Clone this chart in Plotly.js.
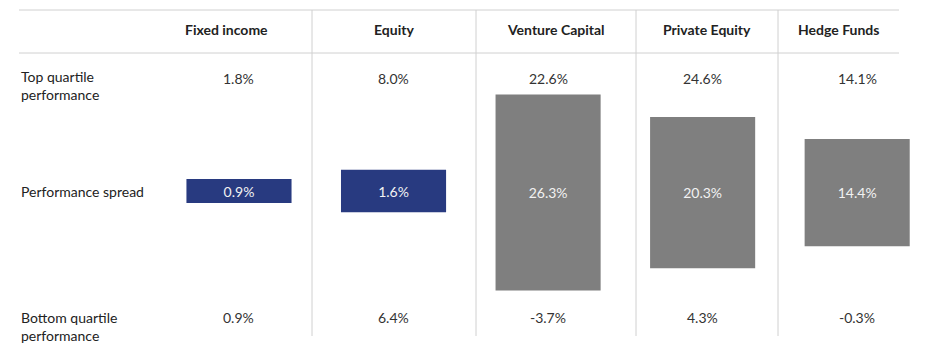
<!DOCTYPE html>
<html><head><meta charset="utf-8">
<script src="https://cdn.plot.ly/plotly-3.0.1.min.js"></script>
<style>html,body{margin:0;padding:0;background:#fff;}#chart{width:941px;height:353px;}</style>
</head><body><div id="chart"></div>
<script>
// ---- data ----
const categories = ["Fixed income", "Equity", "Venture Capital", "Private Equity", "Hedge Funds"];
const topQuartile = ["1.8%", "8.0%", "22.6%", "24.6%", "14.1%"];
const bottomQuartile = ["0.9%", "6.4%", "-3.7%", "4.3%", "-0.3%"];
const spreadTraditional = [0.9, 1.6];          // Fixed income, Equity (blue, own scale)
const spreadAlternative = [26.3, 20.3, 14.4];  // VC, PE, Hedge Funds (grey)
const rowLabels = ["Top quartile<br>performance", "Performance spread", "Bottom quartile<br>performance"];

// ---- layout helpers ----
const W = 941, H = 353;
const px = x => x / W;
const py = y => 1 - y / H;
const FONT = "Lato, 'Liberation Sans', sans-serif";
const txt = "#333333";
const FS = 14;

const tradCats = categories.slice(0, 2);
const altCats = categories.slice(2);

const traces = [
  {
    type: "bar", x: tradCats, y: spreadTraditional,
    base: spreadTraditional.map(v => -v / 2),
    yaxis: "y2", width: 0.68,
    marker: {color: "#283a80"},
    text: spreadTraditional.map(v => v.toFixed(1) + "%"),
    textposition: "inside", insidetextanchor: "middle",
    textfont: {color: "#f2f2f2", size: FS, family: FONT},
    hoverinfo: "skip", showlegend: false
  },
  {
    type: "bar", x: altCats, y: spreadAlternative,
    base: spreadAlternative.map(v => -v / 2),
    yaxis: "y", width: 0.68,
    marker: {color: "#7f7f7f"},
    text: spreadAlternative.map(v => v.toFixed(1) + "%"),
    textposition: "inside", insidetextanchor: "middle",
    textfont: {color: "#f2f2f2", size: FS, family: FONT},
    hoverinfo: "skip", showlegend: false
  }
];

// table structure (pixels)
const colEdges = [140, 312, 476, 636, 778, 898];
const lineColor = "#d0d0d0";
const shapes = [];
[10, 53].forEach(y => shapes.push({type: "line", xref: "paper", yref: "paper",
  x0: px(19), x1: px(899), y0: py(y), y1: py(y), line: {color: lineColor, width: 1}}));
colEdges.slice(1, 5).forEach(x => shapes.push({type: "line", xref: "paper", yref: "paper",
  x0: px(x), x1: px(x), y0: py(10), y1: py(336), line: {color: lineColor, width: 1}}));

const annotations = [];
categories.forEach((c, i) => {
  annotations.push({xref: "paper", yref: "paper", x: px((colEdges[i] + colEdges[i + 1]) / 2), y: py(30),
    text: "<b>" + c + "</b>", showarrow: false, xanchor: "center", yanchor: "middle",
    font: {family: FONT, size: FS, color: "#222"}});
  annotations.push({xref: "x", yref: "paper", x: c, y: py(78), text: topQuartile[i],
    showarrow: false, xanchor: "center", yanchor: "middle", font: {family: FONT, size: FS, color: txt}});
  annotations.push({xref: "x", yref: "paper", x: c, y: py(317), text: bottomQuartile[i],
    showarrow: false, xanchor: "center", yanchor: "middle", font: {family: FONT, size: FS, color: txt}});
});
[[86, 0], [191, 1], [326, 2]].forEach(([y, k]) => annotations.push({xref: "paper", yref: "paper",
  x: px(19), y: py(y), text: rowLabels[k], showarrow: false, xanchor: "left", yanchor: "middle", align: "left",
  font: {family: FONT, size: FS, color: "#222"}}));

const layout = {
  width: W, height: H, margin: {l: 0, r: 0, t: 0, b: 0},
  paper_bgcolor: "#fff", plot_bgcolor: "#fff",
  barmode: "overlay",
  xaxis: {type: "category", categoryorder: "array", categoryarray: categories,
    range: [-1.5464, 4.5424], visible: false, fixedrange: true},
  yaxis: {range: [-21.54, 25.84], visible: false, fixedrange: true},
  yaxis2: {range: [-6.09, 7.18], overlaying: "y", visible: false, fixedrange: true},
  shapes: shapes, annotations: annotations,
  uniformtext: {mode: "show", minsize: FS}
};

Plotly.newPlot("chart", traces, layout, {displayModeBar: false, staticPlot: true});
</script></body></html>
